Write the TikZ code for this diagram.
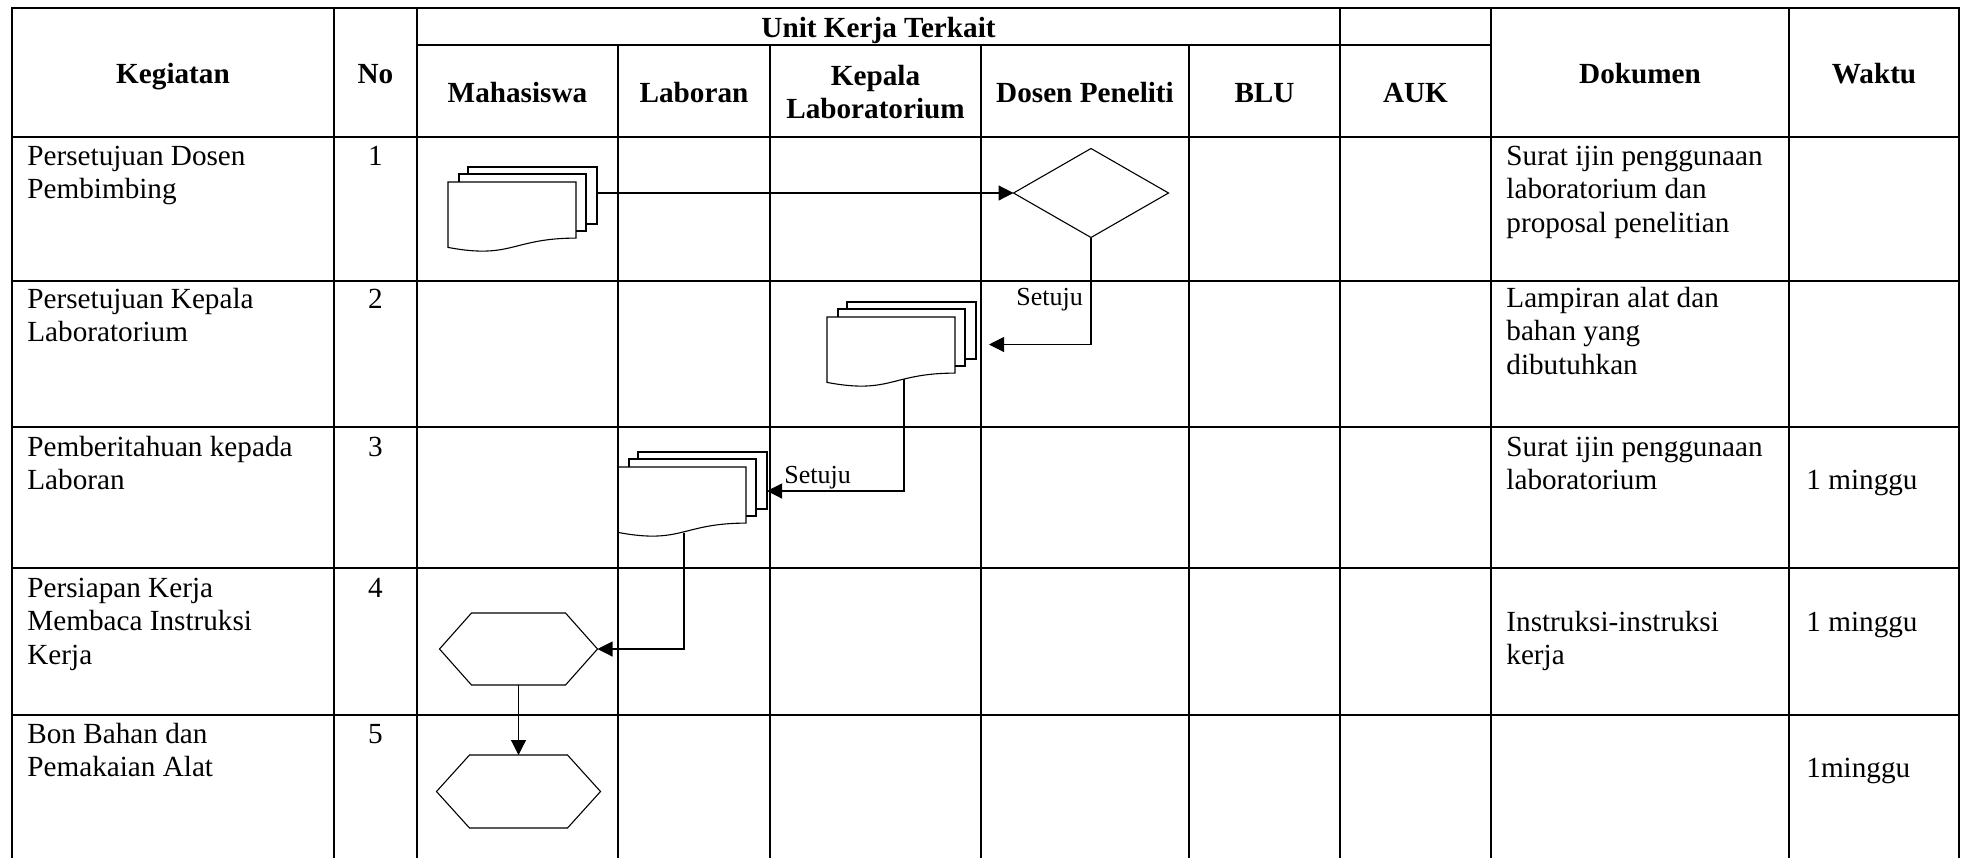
\documentclass[tikz,border=0pt]{standalone}
\usepackage{fontspec}
\setmainfont{Liberation Serif}
\usetikzlibrary{arrows.meta,calc,shapes.geometric}
\newcommand\tl[1]{\begin{tabular}[t]{@{}l@{}}#1\end{tabular}}
\newcommand\tcn[1]{\begin{tabular}[t]{@{}c@{}}#1\end{tabular}}
\newcommand\mdocdraw[1]{%
\begin{scope}[shift={(#1.center)}]
\draw[shp] (-54.5,-35.5) -- (-54.5,-42.5) -- (74.5,-42.5) -- (74.5,14.5) -- (63.5,14.5);
\draw[shp] (-63.5,-27.5) -- (-63.5,-35.5) -- (63.5,-35.5) -- (63.5,21.5) -- (53.5,21.5);
\draw[shp] (-74.5,-27.5) -- (53.5,-27.5) -- (53.5,28.6) .. controls (-10.5,28.6) and (-10.5,50) .. (-74.5,37.9) -- cycle;
\end{scope}}
\newcommand\hexdraw[4]{%
\begin{scope}[shift={(#1.center)}]
\draw[shp] (-#2,0) -- (-#3,-#4) -- (#3,-#4) -- (#2,0) -- (#3,#4) -- (-#3,#4) -- cycle;
\end{scope}}
\tikzset{
 gridline/.style={line width=0.75pt, line cap=rect},
 shp/.style={line width=0.55pt},
 arr/.style={line width=0.55pt, -{Triangle[length=7.5pt,width=7.5pt]}},
 txt/.style={anchor=base west, inner sep=0pt, font=\fontsize{14.6}{16.75}\selectfont},
 num/.style={anchor=base, inner sep=0pt, font=\fontsize{14.6}{16.75}\selectfont},
 hd/.style={anchor=base, inner sep=0pt, font=\fontsize{14.6}{16.5}\selectfont\bfseries},
 lbl/.style={anchor=base west, inner sep=0pt, font=\fontsize{13}{15}\selectfont},
 mdoc/.style={minimum width=74.5pt, minimum height=42.5pt, inner sep=0pt, outer sep=0pt},
 hexbox/.style={inner sep=0pt, outer sep=0pt},
 dia/.style={diamond, draw, line width=0.55pt, minimum width=77.5pt, minimum height=44.5pt, inner sep=0pt, outer sep=0pt},
}
\begin{document}
\begin{tikzpicture}[x=0.5pt, y=-0.5pt]
\useasboundingbox (0,0) rectangle (1962,857);
% grid
\draw[gridline] (12,8) -- (1959,8);
\draw[gridline] (417,45) -- (1491,45);
\foreach \y in {137,281,427,568,715} \draw[gridline] (12,\y) -- (1959,\y);
\foreach \x in {12,334,417,1340,1491,1789,1959} \draw[gridline] (\x,8) -- (\x,857);
\foreach \x in {618,770,981,1189} \draw[gridline] (\x,45) -- (\x,857);
% headers
\node[hd] (hKeg) at (173,83) {Kegiatan};
\node[hd] (hNo) at (375.5,83) {No};
\node[hd] (hUnit) at (878.5,37) {Unit Kerja Terkait};
\node[hd] (hMah) at (517.5,102) {Mahasiswa};
\node[hd] (hLab) at (694,102) {Laboran};
\node[hd] (hKep) at (875.5,85) {\tcn{Kepala\\Laboratorium}};
\node[hd] (hDos) at (1085,102) {Dosen Peneliti};
\node[hd] (hBLU) at (1264.5,102) {BLU};
\node[hd] (hAUK) at (1415.5,102) {AUK};
\node[hd] (hDok) at (1640,83) {Dokumen};
\node[hd] (hWak) at (1874,83) {Waktu};
% Kegiatan
\node[txt] (k1) at (27,165) {\tl{Persetujuan Dosen\\Pembimbing}};
\node[txt] (k2t) at (27,308) {\tl{Persetujuan Kepala\\Laboratorium}};
\node[txt] (k3) at (27,456) {\tl{Pemberitahuan kepada\\Laboran}};
\node[txt] (k4) at (27,597) {\tl{Persiapan Kerja\\Membaca Instruksi\\Kerja}};
\node[txt] (k5) at (27,743) {\tl{Bon Bahan dan\\Pemakaian Alat}};
% numbers
\node[num] (n1) at (375.5,165) {1};
\node[num] (n2) at (375.5,308) {2};
\node[num] (n3) at (375.5,456) {3};
\node[num] (n4) at (375.5,597) {4};
\node[num] (n5) at (375.5,743) {5};
% Dokumen
\node[txt] (d1t) at (1506,165) {\tl{Surat ijin penggunaan\\laboratorium dan\\proposal penelitian}};
\node[txt] (d2t) at (1506,307) {\tl{Lampiran alat dan\\bahan yang\\dibutuhkan}};
\node[txt] (d3t) at (1506,456) {\tl{Surat ijin penggunaan\\laboratorium}};
\node[txt] (d4t) at (1506,631) {\tl{Instruksi-instruksi\\kerja}};
% Waktu
\node[txt] (w3) at (1806,489) {1 minggu};
\node[txt] (w4) at (1806,631) {1 minggu};
\node[txt] (w5) at (1806,777) {1minggu};
% shapes
\node[mdoc] (m1) at (522.5,209.5) {};
\node[mdoc] (k2) at (901.5,344.5) {};
\node[mdoc] (l3) at (692.5,494.5) {};
\mdocdraw{m1}
\mdocdraw{k2}
\mdocdraw{l3}
\node[dia] (d1) at (1091,193) {};
\node[hexbox, minimum width=79pt, minimum height=36pt] (h1) at (518.5,649) {};
\node[hexbox, minimum width=82pt, minimum height=36.5pt] (h2) at (518.5,791.5) {};
\hexdraw{h1}{79}{47}{36}
\hexdraw{h2}{82}{49}{36.5}
% coordinates
\coordinate (m1r) at ($(m1.east)+(0,-16.5)$);
\coordinate (l3r) at ($(l3.east)+(0,-3.5)$);
\coordinate (k2w) at ($(k2.center)+(2.5,34.5)$);
\coordinate (l3w) at ($(l3.center)+(-8.5,38.5)$);
\coordinate (k2a) at ($(k2.east)+(13,0)$);
% connectors
\draw[arr] (m1r) -- (d1.west);
\draw[arr] (d1.south) |- (k2a);
\draw[arr] (k2w) |- (l3r);
\draw[arr] (l3w) |- (h1.east);
\draw[arr] (h1.south) -- (h2.north);
% labels
\node[lbl] (s1) at (1016,305) {Setuju};
\node[lbl] (s2) at (784,483) {Setuju};
\end{tikzpicture}
\end{document}
